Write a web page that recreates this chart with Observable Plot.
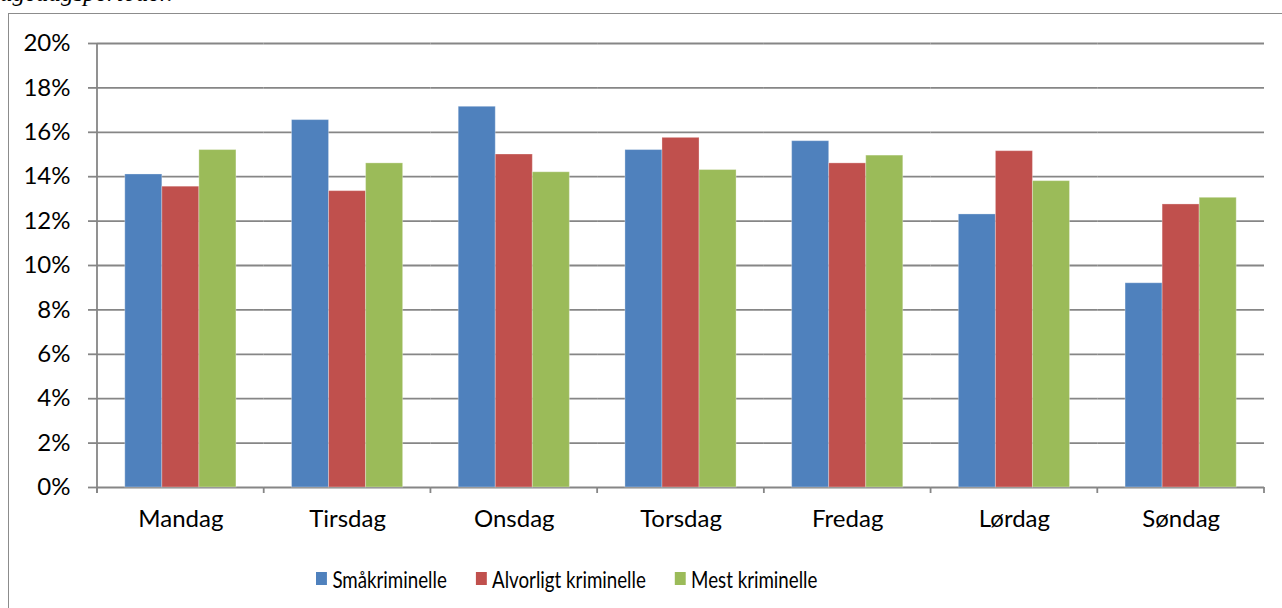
<!DOCTYPE html>
<html><head><meta charset="utf-8">
<script src="https://cdn.jsdelivr.net/npm/d3@7"></script>
<script src="https://cdn.jsdelivr.net/npm/@observablehq/plot@0.6"></script>
<style>
html,body{margin:0;padding:0;width:1282px;height:608px;overflow:hidden;background:#fff;}
#frame{position:absolute;left:8px;top:13px;width:1300px;height:640px;border:1.5px solid #8c8c8c;box-sizing:border-box;}
#chart{position:absolute;left:0;top:0;}
#toptext{position:absolute;left:0px;top:-21px;font-family:"Liberation Serif",serif;font-style:italic;font-size:25px;white-space:nowrap;color:#000;}
#legend{position:absolute;top:564px;left:316px;display:flex;align-items:center;font-family:Lato,sans-serif;font-size:24px;color:#000;transform:scaleX(0.78);transform-origin:0 50%;white-space:nowrap;}
.item{display:flex;align-items:center;margin-right:37px;}
.sw{width:14px;height:13px;margin-right:7px;}
</style></head>
<body>
<div id="toptext">ugedagsperioder.</div>
<div id="frame"></div>
<div id="chart"></div>
<div id="legend"></div>
<script>
const days = ["Mandag","Tirsdag","Onsdag","Torsdag","Fredag","Lørdag","Søndag"];
const series = ["Småkriminelle","Alvorligt kriminelle","Mest kriminelle"];
const colors = ["#4F81BD","#C0504D","#9BBB59"];
const smaakriminelle = [14.1, 16.55, 17.15, 15.2, 15.6, 12.3, 9.2];
const alvorligtKriminelle = [13.55, 13.35, 15.0, 15.75, 14.6, 15.15, 12.75];
const mestKriminelle = [15.2, 14.6, 14.2, 14.3, 14.95, 13.8, 13.05];
const yTicks = [0,2,4,6,8,10,12,14,16,18,20];

const values = [smaakriminelle, alvorligtKriminelle, mestKriminelle];
const data = [];
days.forEach((d, i) => series.forEach((s, j) => data.push({day: d, series: s, value: values[j][i]})));

const gridColor = "#868686";
const plot = Plot.plot({
  width: 1282,
  height: 540,
  marginLeft: 97,
  marginRight: 18,
  marginTop: 43,
  marginBottom: 53,
  style: {fontFamily: "Lato, sans-serif", fontSize: "24px", color: "#000", background: "transparent", overflow: "visible"},
  fx: {domain: days, paddingInner: 0, paddingOuter: 0, round: false, label: null, axis: "bottom", tickSize: 0, tickPadding: 22},
  x: {domain: series, paddingInner: 0, paddingOuter: 0.75, round: false, axis: null},
  y: {domain: [0, 20], axis: null},
  color: {domain: series, range: colors},
  marks: [
    Plot.gridY(yTicks, {stroke: gridColor, strokeOpacity: 1, strokeWidth: 1.8}),
    Plot.axisY(yTicks, {tickSize: 9, tickPadding: 18, tickFormat: d => d + "%", stroke: gridColor, strokeWidth: 1.8, fill: "#000", label: null}),
    Plot.barY(data, {fx: "day", x: "series", y: "value", fill: "series", stroke: "#fff", strokeOpacity: 0.3, strokeWidth: 1})
  ]
});
document.getElementById("chart").appendChild(plot);

// y axis line and category boundary ticks, placed with the plot's own scales
const fxS = plot.scale("fx"), yS = plot.scale("y");
const fx = d3.scaleBand().domain(fxS.domain).range(fxS.range).paddingInner(fxS.paddingInner || 0).paddingOuter(fxS.paddingOuter || 0);
const y = d3.scaleLinear().domain(yS.domain).range(yS.range);
const svg = d3.select(plot);
const g = svg.append("g").attr("stroke", gridColor).attr("stroke-width", 1.8);
const bounds = days.map(d => fx(d)).concat([fx(days[days.length-1]) + fx.bandwidth()]);
g.append("line").attr("x1", bounds[0]).attr("x2", bounds[0]).attr("y1", y(20)).attr("y2", y(0) + 6);
bounds.forEach(b => g.append("line").attr("x1", b).attr("x2", b).attr("y1", y(0)).attr("y2", y(0) + 6));

const leg = document.getElementById("legend");
series.forEach((s, j) => {
  const it = document.createElement("div"); it.className = "item";
  const sw = document.createElement("span"); sw.className = "sw"; sw.style.background = colors[j];
  const t = document.createElement("span"); t.textContent = s;
  it.appendChild(sw); it.appendChild(t); leg.appendChild(it);
});
</script>
</body></html>
